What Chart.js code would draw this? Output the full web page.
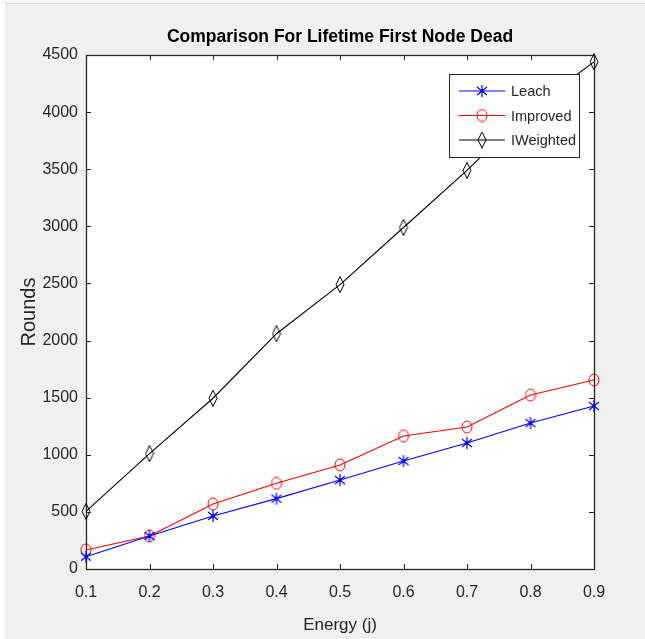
<!DOCTYPE html>
<html lang="en">
<head>
<meta charset="UTF-8">
<title>Comparison For Lifetime First Node Dead</title>
<script src="https://cdn.jsdelivr.net/npm/chart.js"></script>
<style>
  html, body { margin: 0; padding: 0; background: #fff; }
</style>
</head>
<body>
<canvas id="myChart" width="645" height="639"></canvas>
<script>
// data
const energy = [0.1, 0.2, 0.3, 0.4, 0.5, 0.6, 0.7, 0.8, 0.9];
const leach = [108, 289, 464, 616, 779, 945, 1103, 1278, 1427];
const improved = [166, 289, 569, 750, 911, 1165, 1243, 1523, 1655];
const iweighted = [505, 1010, 1495, 2060, 2490, 2990, 3490, 4030, 4440];
const seriesNames = ["Leach", "Improved", "IWeighted"];
const yTicks = [0, 500, 1000, 1500, 2000, 2500, 3000, 3500, 4000, 4500];
const chartTitle = "Comparison For Lifetime First Node Dead";

const sans = "'Liberation Sans', Arial, Helvetica, sans-serif";
const axisColor = "#262626";

// marker images, MATLAB style (a bit taller than wide)
function marker(kind, color) {
    const c = document.createElement("canvas");
    const w = kind === "diamond" ? 10 : 12;
    const h = kind === "diamond" ? 17 : 14;
    c.width = w; c.height = h;
    const g = c.getContext("2d");
    g.strokeStyle = color;
    g.lineWidth = 1;
    const cx = w / 2, cy = h / 2;
    if (kind === "star") {
        g.lineWidth = 1.2;
        g.beginPath();
        g.moveTo(cx, 1); g.lineTo(cx, h - 1);
        g.moveTo(1, 3); g.lineTo(w - 1, h - 3);
        g.moveTo(1, h - 3); g.lineTo(w - 1, 3);
        g.stroke();
        g.fillStyle = color;
        g.fillRect(cx - 1.5, cy - 1.5, 3, 3);
    } else if (kind === "circle") {
        g.beginPath();
        g.ellipse(cx, cy, w / 2 - 1, h / 2 - 1, 0, 0, Math.PI * 2);
        g.stroke();
    } else {
        g.beginPath();
        g.moveTo(cx, 0.5); g.lineTo(w - 1, cy); g.lineTo(cx, h - 0.5); g.lineTo(1, cy);
        g.closePath();
        g.stroke();
    }
    return c;
}

const colors = ["#0000ff", "#ff0000", "#000000"];
const markers = [marker("star", colors[0]), marker("circle", colors[1]), marker("diamond", colors[2])];
const values = [leach, improved, iweighted];

const datasets = seriesNames.map((name, i) => ({
    label: name,
    data: energy.map((x, j) => ({ x: x, y: values[i][j] })),
    borderColor: colors[i],
    borderWidth: 1.1,
    pointStyle: markers[i],
    clip: false,
    tension: 0
}));

// background, title over the axes, box with inward ticks on all four sides, legend inside
const matlabLook = {
    id: "matlabLook",
    beforeDraw(chart) {
        const ctx = chart.ctx;
        const a = chart.chartArea;
        ctx.save();
        ctx.fillStyle = "#f0f0f0";
        ctx.fillRect(0, 0, chart.width, chart.height);
        ctx.fillStyle = "#ffffff";
        ctx.fillRect(0, 0, 5, chart.height);
        ctx.fillStyle = "#f7f7f7";
        ctx.fillRect(0, 0, chart.width, 3);
        ctx.fillStyle = "#d9d9d9";
        ctx.fillRect(5, 3, chart.width, 1);
        ctx.fillStyle = "#ffffff";
        ctx.fillRect(a.left, a.top, a.right - a.left, a.bottom - a.top);
        ctx.fillStyle = "#000000";
        ctx.font = "bold 17.5px " + sans;
        ctx.textAlign = "center";
        ctx.textBaseline = "middle";
        ctx.fillText(chartTitle, (a.left + a.right) / 2, a.top - 18);
        ctx.restore();
    },
    beforeDatasetsDraw(chart) {
        const ctx = chart.ctx;
        const a = chart.chartArea;
        const xs = chart.scales.x, ys = chart.scales.y;
        const t = 5;
        ctx.save();
        ctx.strokeStyle = axisColor;
        ctx.lineWidth = 1;
        ctx.beginPath();
        xs.ticks.forEach(tk => {
            const px = Math.round(xs.getPixelForValue(tk.value)) + 0.5;
            ctx.moveTo(px, a.bottom); ctx.lineTo(px, a.bottom - t);
            ctx.moveTo(px, a.top); ctx.lineTo(px, a.top + t);
        });
        ys.ticks.forEach(tk => {
            const py = Math.round(ys.getPixelForValue(tk.value)) + 0.5;
            ctx.moveTo(a.left, py); ctx.lineTo(a.left + t, py);
            ctx.moveTo(a.right, py); ctx.lineTo(a.right - t, py);
        });
        ctx.stroke();
        ctx.lineWidth = 1.3;
        ctx.strokeRect(Math.round(a.left) + 0.5, Math.round(a.top) + 0.5,
            Math.round(a.right - a.left), Math.round(a.bottom - a.top));
        ctx.restore();
    },
    afterDatasetsDraw(chart) {
        const ctx = chart.ctx;
        const a = chart.chartArea;
        const bx = a.right - 145, by = a.top + 19, bw = 130, bh = 83;
        ctx.save();
        ctx.fillStyle = "#ffffff";
        ctx.fillRect(bx, by, bw, bh);
        ctx.strokeStyle = axisColor;
        ctx.lineWidth = 1;
        ctx.strokeRect(bx + 0.5, by + 0.5, bw, bh);
        ctx.font = "14.5px " + sans;
        ctx.textBaseline = "middle";
        chart.data.datasets.forEach((ds, i) => {
            const y = by + 17 + i * 24.5;
            ctx.strokeStyle = ds.borderColor;
            ctx.lineWidth = 1.1;
            ctx.beginPath();
            ctx.moveTo(bx + 10, y); ctx.lineTo(bx + 56, y);
            ctx.stroke();
            const m = ds.pointStyle;
            ctx.drawImage(m, bx + 33 - m.width / 2, y - m.height / 2);
            ctx.fillStyle = axisColor;
            ctx.fillText(ds.label, bx + 62, y + 1);
        });
        ctx.restore();
    }
};

new Chart(document.getElementById("myChart"), {
    type: "line",
    data: { datasets: datasets },
    options: {
        responsive: false,
        animation: false,
        layout: { padding: { left: 0, right: 51, top: 55, bottom: 0 } },
        plugins: {
            legend: { display: false },
            tooltip: { enabled: false },
            title: { display: false }
        },
        scales: {
            x: {
                type: "linear",
                min: 0.1,
                max: 0.9,
                grid: { display: false, drawTicks: false },
                border: { display: false },
                ticks: {
                    stepSize: 0.1,
                    color: axisColor,
                    padding: 14,
                    font: { family: sans, size: 16 },
                    callback: v => Number(v).toFixed(1)
                },
                title: {
                    display: true,
                    text: "Energy (j)",
                    color: axisColor,
                    font: { family: sans, size: 17 },
                    padding: { top: 0, bottom: 3 }
                },
                afterFit: s => { s.height = 70; }
            },
            y: {
                min: 0,
                max: 4500,
                grid: { display: false, drawTicks: false },
                border: { display: false },
                afterBuildTicks: s => { s.ticks = yTicks.map(v => ({ value: v })); },
                ticks: {
                    color: axisColor,
                    padding: 8,
                    font: { family: sans, size: 16 },
                    callback: v => String(v)
                },
                title: {
                    display: true,
                    text: "Rounds",
                    color: axisColor,
                    font: { family: sans, size: 20 },
                    padding: { top: 17, bottom: 0 }
                },
                afterFit: s => { s.width = 86; }
            }
        }
    },
    plugins: [matlabLook]
});
</script>
</body>
</html>
